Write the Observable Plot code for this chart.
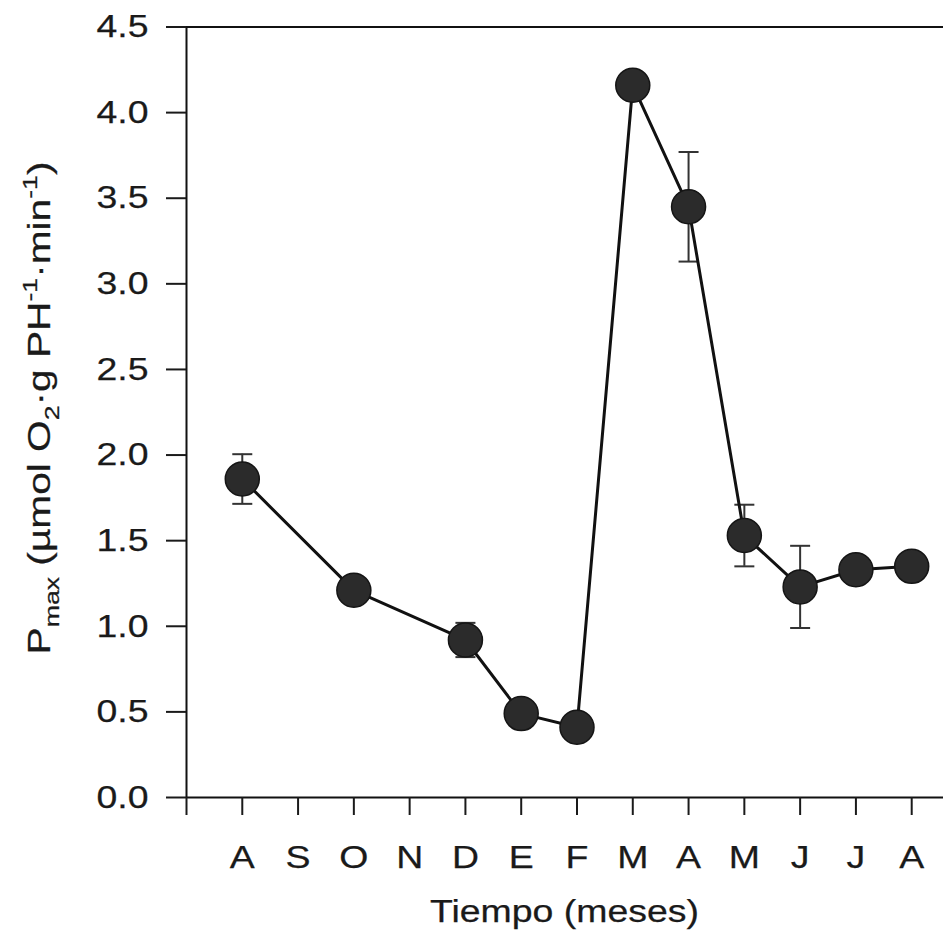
<!DOCTYPE html>
<html>
<head>
<meta charset="utf-8">
<script src="https://cdn.jsdelivr.net/npm/d3@7"></script>
<script src="https://cdn.jsdelivr.net/npm/@observablehq/plot@0.6"></script>
<style>
  html, body { margin: 0; padding: 0; background: #fff; }
  #chart svg { display: block; }
  #chart svg text { stroke: #1a1a1a; stroke-width: 0.25px; }
</style>
</head>
<body>
<div id="chart"></div>
<script>
// Months of the sampling year (x positions 1..13)
const monthLabels = ["A", "S", "O", "N", "D", "E", "F", "M", "A", "M", "J", "J", "A"];
// Months in which Pmax was measured (1-based position on the month axis)
const monthIndex = [1, 3, 5, 6, 7, 8, 9, 10, 11, 12, 13];
// Pmax (µmol O2·g PH-1·min-1)
const pmaxValues = [1.86, 1.21, 0.92, 0.49, 0.41, 4.16, 3.45, 1.53, 1.23, 1.33, 1.35];
// Error (half-width of the bars); 0 = no bar drawn
const pmaxError = [0.145, 0, 0.10, 0, 0, 0, 0.32, 0.18, 0.24, 0, 0];
// Y axis ticks
const yTicks = [0, 0.5, 1.0, 1.5, 2.0, 2.5, 3.0, 3.5, 4.0, 4.5];

const W = 943, H = 932;
const FONT = "'Liberation Sans', Arial, Helvetica, sans-serif";
const STRETCH = 1.17;        // tick labels and x title
const TITLE_STRETCH = 1.27;  // rotated y title
const xMax = 13.57;

const data = monthIndex.map((m, i) => ({ m, v: pmaxValues[i], e: pmaxError[i] }));
const withErr = data.filter(d => d.e > 0);

// horizontal cap used at the ends of the error bars
const capSymbol = { draw(ctx) { ctx.moveTo(-10, 0); ctx.lineTo(10, 0); } };

const chart = Plot.plot({
  width: W,
  height: H,
  marginLeft: 186,
  marginRight: 0,
  marginTop: 26.5,
  marginBottom: 135,
  style: { fontFamily: FONT, color: "#1a1a1a", background: "#fff" },
  x: { domain: [0, xMax] },
  y: { domain: [0, 4.5] },
  marks: [
    // frame lines: bottom and top
    Plot.ruleY([0, 4.5], { x1: 0, x2: xMax, stroke: "#111", strokeWidth: 2 }),
    // left axis line
    Plot.ruleX([0], { y1: 0, y2: 4.5, stroke: "#111", strokeWidth: 2 }),
    Plot.axisY({
      ticks: yTicks, tickSize: 20, tickPadding: 18, tickFormat: d3.format(".1f"),
      fontSize: 32, strokeWidth: 2, label: null
    }),
    Plot.axisX({
      ticks: d3.range(0, 14), tickSize: 18, tickPadding: 30,
      tickFormat: i => (i === 0 ? "" : monthLabels[i - 1]),
      fontSize: 32, strokeWidth: 2, label: null
    }),
    // error bars
    Plot.ruleX(withErr, { x: "m", y1: d => d.v - d.e, y2: d => d.v + d.e, stroke: "#333", strokeWidth: 2 }),
    Plot.dot(withErr, { x: "m", y: d => d.v + d.e, symbol: capSymbol, stroke: "#333", strokeWidth: 2 }),
    Plot.dot(withErr, { x: "m", y: d => d.v - d.e, symbol: capSymbol, stroke: "#333", strokeWidth: 2 }),
    // connecting line and points
    Plot.line(data, { x: "m", y: "v", stroke: "#111", strokeWidth: 3 }),
    Plot.dot(data, { x: "m", y: "v", r: 17, fill: "#2b2b2b", stroke: "#151515", strokeWidth: 1.5 })
  ]
});

document.getElementById("chart").appendChild(chart);

const svg = d3.select(chart);

// widen the lettering to the proportions of the original typeface
function widen(node, factor) {
  const len = node.getComputedTextLength();
  if (len > 0) {
    node.setAttribute("textLength", (len * factor).toFixed(1));
    node.setAttribute("lengthAdjust", "spacingAndGlyphs");
  }
}
svg.selectAll("text").each(function () { widen(this, STRETCH); });

// x axis title
svg.append("text")
  .attr("x", (186 + W) / 2)
  .attr("y", 922)
  .attr("text-anchor", "middle")
  .attr("font-family", FONT)
  .attr("font-size", 32)
  .attr("fill", "#1a1a1a")
  .text("Tiempo (meses)")
  .each(function () { widen(this, STRETCH); });

// y axis title with sub- and superscripts
const yt = svg.append("text")
  .attr("transform", "translate(50, 408) rotate(-90)")
  .attr("text-anchor", "middle")
  .attr("font-family", FONT)
  .attr("font-size", 32)
  .attr("fill", "#1a1a1a");
yt.append("tspan").text("P");
yt.append("tspan").attr("font-size", 21).attr("dy", 9).text("max");
yt.append("tspan").attr("dy", -9).text(" (µmol O");
yt.append("tspan").attr("font-size", 21).attr("dy", 9).text("2");
yt.append("tspan").attr("dy", -9).text("·g PH");
yt.append("tspan").attr("font-size", 21).attr("dy", -13).text("-1");
yt.append("tspan").attr("dy", 13).text("·min");
yt.append("tspan").attr("font-size", 21).attr("dy", -13).text("-1");
yt.append("tspan").attr("dy", 13).text(")");
yt.each(function () { widen(this, TITLE_STRETCH); });
</script>
</body>
</html>
